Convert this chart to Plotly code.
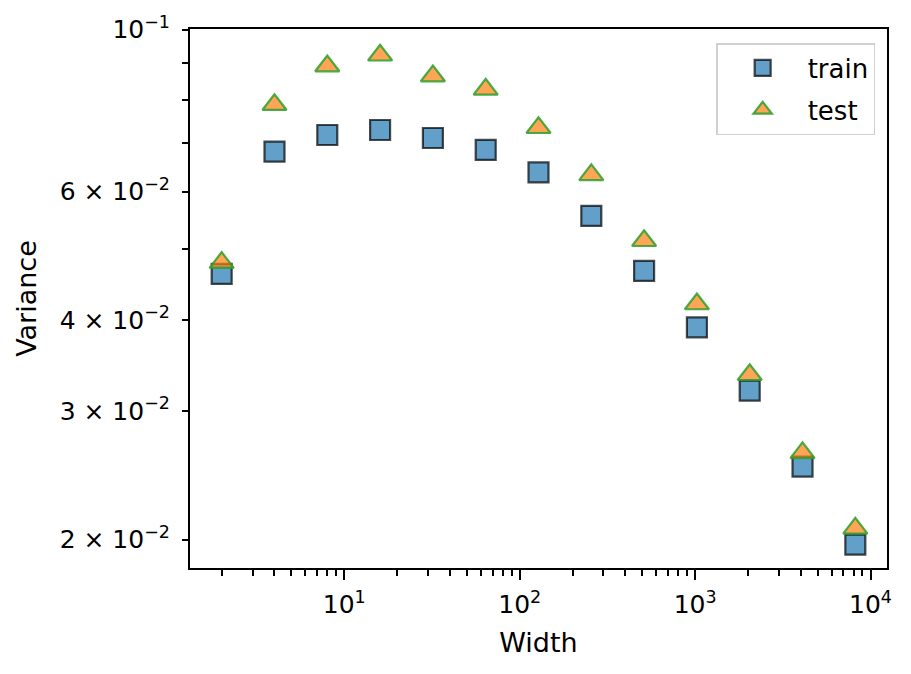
import plotly.graph_objects as go

# widths on the x axis (powers of two)
widths = [2, 4, 8, 16, 32, 64, 128, 256, 512, 1024, 2048, 4096, 8192]

# variance
train_var = [0.04627, 0.06805, 0.07172, 0.07286, 0.07105, 0.06842, 0.06373,
             0.05556, 0.04670, 0.03908, 0.03200, 0.02518, 0.01968]
test_var = [0.04794, 0.07892, 0.08917, 0.09226, 0.08640, 0.08283, 0.07339,
            0.06324, 0.05137, 0.04207, 0.03365, 0.02629, 0.02072]

# tick labels
x_major = [10, 100, 1000, 10000]
x_major_text = ["10<sup>1</sup>", "10<sup>2</sup>", "10<sup>3</sup>", "10<sup>4</sup>"]
x_minor = [m * 10 ** k for k in range(0, 4) for m in range(2, 10)]
y_major = [0.02, 0.03, 0.04, 0.06, 0.1]
y_major_text = ["2 × 10<sup>−2</sup>", "3 × 10<sup>−2</sup>", "4 × 10<sup>−2</sup>",
                "6 × 10<sup>−2</sup>", "10<sup>−1</sup>"]
y_minor = [0.05, 0.07, 0.08, 0.09]

font = "DejaVu Sans"

fig = go.Figure()
fig.add_trace(go.Scatter(
    x=widths, y=train_var, mode="markers", name="train", legendgroup="train",
    marker=dict(symbol="square", size=20, color="rgba(31,119,180,0.7)",
                line=dict(color="rgba(0,0,0,0.7)", width=2.2)),
))
fig.add_trace(go.Scatter(
    x=widths, y=test_var, mode="markers", name="test", legendgroup="test",
    marker=dict(symbol="triangle-up", size=21, color="rgba(255,127,14,0.7)",
                line=dict(color="rgba(44,160,44,0.85)", width=2.2)),
))

axis_common = dict(
    showgrid=False, zeroline=False, automargin=False,
    showline=True, linecolor="black", linewidth=2, mirror=True,
    ticks="outside", tickcolor="black", tickwidth=2,
    tickfont=dict(family=font, size=25, color="black"),
)

fig.update_xaxes(
    type="log", range=[0.1204, 4.094],
    tickmode="array", tickvals=x_major, ticktext=x_major_text, ticklen=10,
    ticklabelstandoff=3,
    minor=dict(tickmode="array", tickvals=x_minor, ticklen=6, tickwidth=1.6,
               tickcolor="black", ticks="outside", showgrid=False),
    title=dict(text="Width", font=dict(family=font, size=27, color="black")),
    **axis_common,
)
fig.update_yaxes(
    type="log", range=[-1.738, -0.999],
    tickmode="array", tickvals=y_major, ticktext=y_major_text, ticklen=6,
    ticklabelstandoff=7,
    minor=dict(tickmode="array", tickvals=y_minor, ticklen=6, tickwidth=1.6,
               tickcolor="black", ticks="outside", showgrid=False),
    title=dict(text="Variance", font=dict(family=font, size=27, color="black")),
    **axis_common,
)

# the page body adds an 8px offset, so the figure is 8px smaller each way
fig.update_layout(
    width=903, height=666,
    margin=dict(l=182, r=24, t=21, b=106),
    plot_bgcolor="white", paper_bgcolor="white",
    font=dict(family=font, size=26, color="black"),
    legend=dict(x=0.983, xanchor="right", y=0.974, yanchor="top",
                bordercolor="#d0d0d0", borderwidth=1.5, bgcolor="white",
                itemwidth=80, tracegroupgap=5,
                font=dict(family=font, size=26, color="black")),
)

fig.write_html("out.html")
